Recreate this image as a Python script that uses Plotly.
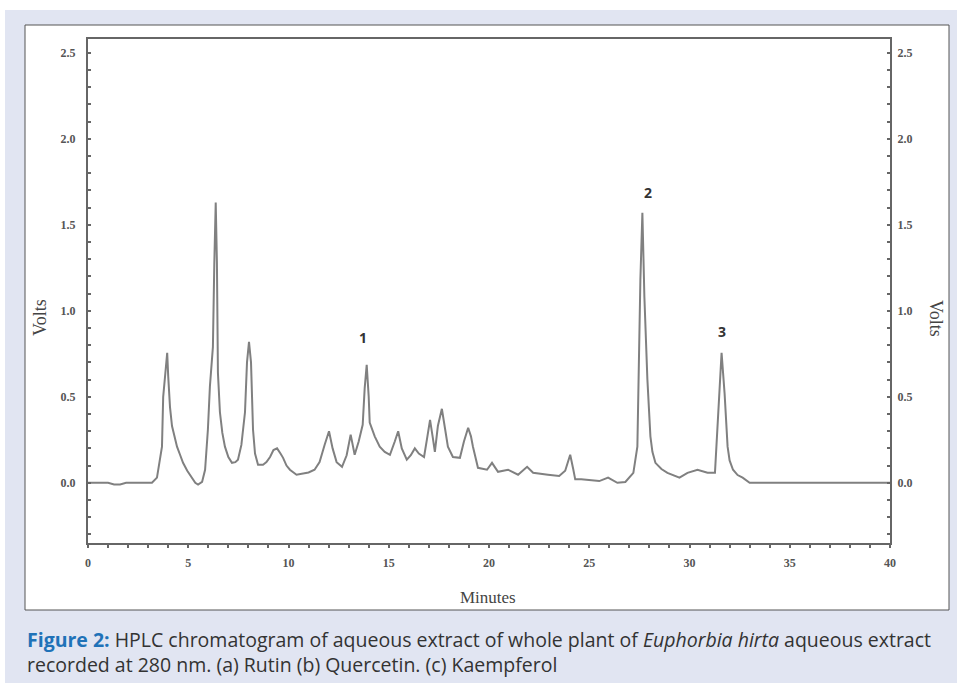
import plotly.graph_objects as go

# ---- data (minutes, volts) ----
time_min = [0.0, 1.0, 1.3, 1.6, 1.9, 2.1, 3.19, 3.44, 3.69, 3.75, 3.84, 3.95, 4.0, 4.09, 4.19,
            4.3, 4.44, 4.6, 4.74, 4.95, 5.19, 5.35, 5.49, 5.69, 5.84, 5.98, 6.08, 6.23, 6.3,
            6.37, 6.43, 6.48, 6.58, 6.7, 6.83, 7.0, 7.18, 7.35, 7.48, 7.65, 7.83, 7.93, 8.03,
            8.13, 8.23, 8.33, 8.48, 8.73, 8.9, 9.08, 9.25, 9.43, 9.6, 9.73, 9.9, 10.07, 10.4,
            10.57, 11.0, 11.3, 11.55, 11.8, 12.02, 12.2, 12.4, 12.67, 12.9, 13.1, 13.3, 13.5,
            13.7, 13.8, 13.9, 14.0, 14.05, 14.3, 14.55, 14.8, 15.06, 15.3, 15.47, 15.65, 15.9,
            16.1, 16.3, 16.5, 16.76, 16.9, 17.06, 17.2, 17.3, 17.45, 17.65, 17.8, 17.95, 18.2,
            18.55, 18.75, 18.96, 19.1, 19.2, 19.45, 19.9, 20.15, 20.45, 20.95, 21.45, 21.9,
            22.2, 22.94, 23.5, 23.8, 24.05, 24.2, 24.3, 24.6, 25.0, 25.5, 25.94, 26.4, 26.8,
            27.2, 27.4, 27.45, 27.55, 27.65, 27.75, 27.9, 28.05, 28.15, 28.3, 28.6, 28.9, 29.5,
            29.9, 30.4, 30.9, 31.27, 31.42, 31.6, 31.75, 31.9, 32.0, 32.17, 32.4, 32.65, 33.0,
            40.0]
volts = [0.0, 0.0, -0.01, -0.01, 0.0, 0.0, 0.0, 0.03, 0.21, 0.5, 0.64, 0.756, 0.62, 0.44, 0.33,
         0.27, 0.21, 0.16, 0.116, 0.07, 0.03, 0.0, -0.01, 0.005, 0.076, 0.31, 0.56, 0.79, 1.28,
         1.63, 1.28, 0.64, 0.41, 0.29, 0.21, 0.15, 0.116, 0.12, 0.134, 0.22, 0.41, 0.70, 0.82,
         0.70, 0.31, 0.17, 0.105, 0.105, 0.12, 0.15, 0.19, 0.20, 0.17, 0.145, 0.10, 0.076, 0.047,
         0.05, 0.06, 0.076, 0.12, 0.22, 0.30, 0.20, 0.12, 0.093, 0.16, 0.28, 0.163, 0.24,
         0.337, 0.55, 0.686, 0.50, 0.35, 0.27, 0.21, 0.18, 0.163, 0.24, 0.30, 0.20, 0.134,
         0.16, 0.20, 0.17, 0.15, 0.25, 0.366, 0.26, 0.18, 0.33, 0.43, 0.32, 0.21, 0.15,
         0.145, 0.24, 0.32, 0.27, 0.21, 0.087, 0.076, 0.116, 0.064, 0.076, 0.047, 0.093,
         0.058, 0.047, 0.04, 0.07, 0.163, 0.08, 0.02, 0.02, 0.015, 0.01, 0.03, 0.0, 0.005,
         0.058, 0.21, 0.6, 1.18, 1.57, 1.08, 0.6, 0.27, 0.18, 0.116, 0.08, 0.058, 0.03,
         0.058, 0.076, 0.058, 0.058, 0.41, 0.756, 0.52, 0.21, 0.13, 0.076, 0.045, 0.03, 0.0,
         0.0]

peak_labels = ["1", "2", "3"]
peak_label_t = [13.72, 27.93, 31.62]
peak_label_v = [0.843, 1.686, 0.878]

x_ticks = [0, 5, 10, 15, 20, 25, 30, 35, 40]
y_ticks = [0.0, 0.5, 1.0, 1.5, 2.0, 2.5]

W, H = 957, 683
L, R, T, B = 88, 890, 39, 543


def px(x):
    return (x - L) / (R - L)


def py(y):
    return (B - y) / (B - T)


AX = "#666666"
TICKFONT = dict(family="Liberation Serif", size=12, color="#555555", weight="bold")

fig = go.Figure()
fig.add_trace(go.Scatter(x=time_min, y=volts, mode="lines",
                         line=dict(color="#808080", width=2), hoverinfo="skip",
                         showlegend=False))
fig.add_trace(go.Scatter(x=[], y=[], yaxis="y2", showlegend=False))

axis_common = dict(showline=True, linecolor=AX, linewidth=2, showgrid=False, zeroline=False,
                   ticklen=3, tickcolor=AX, tickwidth=1.5, tickfont=TICKFONT)

fig.update_layout(
    width=W, height=H,
    margin=dict(l=L, r=W - R, t=T, b=H - B),
    paper_bgcolor="white", plot_bgcolor="rgba(0,0,0,0)",
    xaxis=dict(range=[0, 40], tickvals=x_ticks, mirror=True, ticks="outside",
               minor=dict(dtick=1, ticks="outside", ticklen=3, tickcolor=AX),
               ticklabelstandoff=5, **axis_common),
    yaxis=dict(range=[-0.35, 2.58], tickvals=y_ticks, tickformat=".1f", mirror=True,
               ticks="inside",
               minor=dict(dtick=0.1, ticks="inside", ticklen=3, tickcolor=AX),
               ticklabelstandoff=8, **axis_common),
    yaxis2=dict(range=[-0.35, 2.58], tickvals=y_ticks, tickformat=".1f", overlaying="y",
                side="right", ticks="inside",
                minor=dict(dtick=0.1, ticks="inside", ticklen=3, tickcolor=AX),
                ticklabelstandoff=3, **axis_common),
    showlegend=False,
)

shapes = [
    dict(type="rect", xref="paper", yref="paper", x0=px(5), x1=px(957), y0=py(683), y1=py(10),
         fillcolor="#e1e5f2", line=dict(width=0), layer="below"),
    dict(type="rect", xref="paper", yref="paper", x0=px(25), x1=px(949), y0=py(610), y1=py(25),
         fillcolor="white", line=dict(color="#555555", width=1), layer="below"),
]
fig.update_layout(shapes=shapes)

ann = []
for lab, t, v in zip(peak_labels, peak_label_t, peak_label_v):
    ann.append(dict(x=t, y=v, xref="x", yref="y", text="<b>%s</b>" % lab, showarrow=False,
                    xanchor="center", yanchor="middle",
                    font=dict(family="Open Sans", size=14, color="#333333")))
ann.append(dict(x=px(40), y=py(318), xref="paper", yref="paper", text="Volts", textangle=-90,
                showarrow=False, xanchor="center", yanchor="middle",
                font=dict(family="Liberation Serif", size=18, color="#444444")))
ann.append(dict(x=px(936), y=py(318), xref="paper", yref="paper", text="Volts", textangle=90,
                showarrow=False, xanchor="center", yanchor="middle",
                font=dict(family="Liberation Serif", size=18, color="#444444")))
ann.append(dict(x=px(488), y=py(597), xref="paper", yref="paper", text="Minutes",
                showarrow=False, xanchor="center", yanchor="middle",
                font=dict(family="Liberation Serif", size=17, color="#444444")))
caption = ("<span style='color:#1f72b8'><b>Figure 2:</b></span> HPLC chromatogram of "
           "aqueous extract of whole plant of <i>Euphorbia hirta</i> aqueous extract<br>"
           "recorded at 280 nm. (a) Rutin (b) Quercetin. (c) Kaempferol")
ann.append(dict(x=px(25), y=py(624), xref="paper", yref="paper", text=caption, showarrow=False,
                xanchor="left", yanchor="top", align="left",
                font=dict(family="Open Sans", size=19.5, color="#333333")))
fig.update_layout(annotations=ann)

fig.write_html("out.html")
